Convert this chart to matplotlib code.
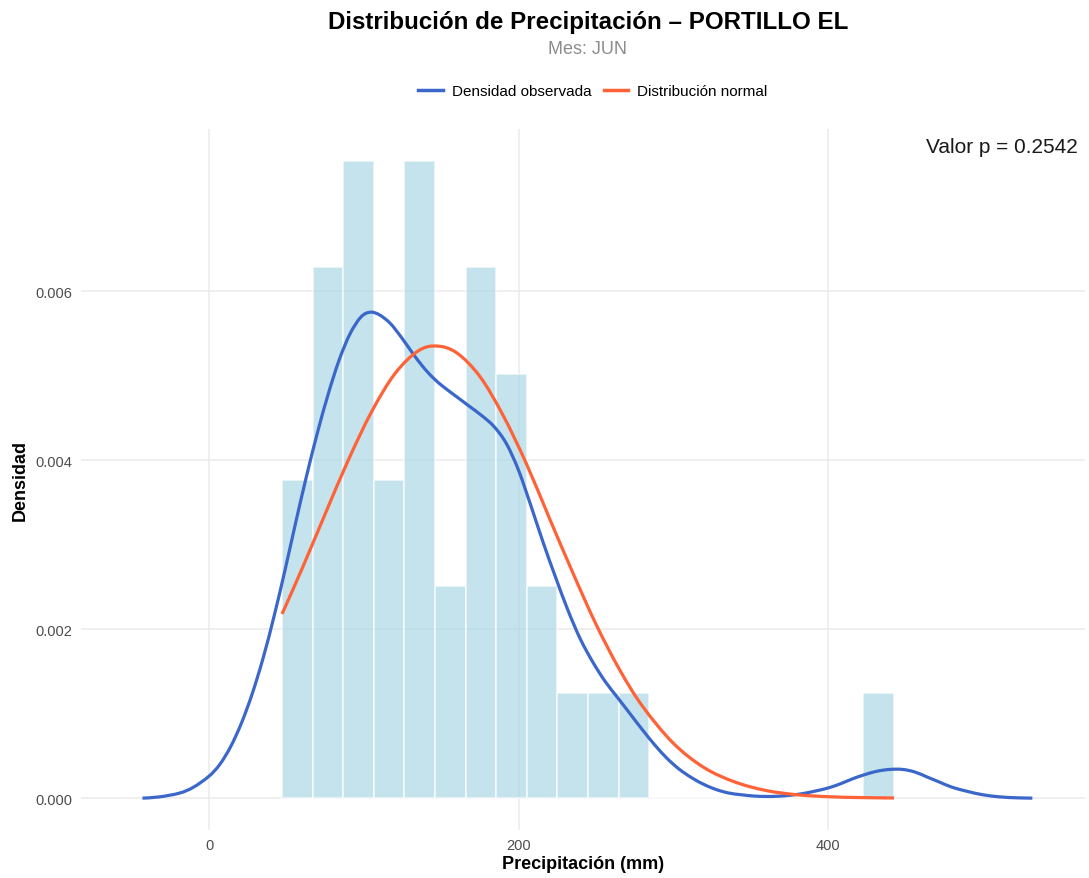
import numpy as np
import matplotlib
matplotlib.use("Agg")
import matplotlib.pyplot as plt
from matplotlib.lines import Line2D
from matplotlib.path import Path
from matplotlib.patches import PathPatch

plt.rcParams['font.family'] = ['Liberation Sans', 'DejaVu Sans']

# ---------------------------------
# Data
# ---------------------------------
# histogram: 20 bins between the min and max of the series
bin_lo, bin_hi, n_bins = 47.2, 442.6, 20
hist_density = [0.00376, 0.00628, 0.00754, 0.00376, 0.00754, 0.00251, 0.00628,
                0.00502, 0.00251, 0.00125, 0.00125, 0.00125, 0, 0, 0, 0, 0, 0, 0,
                0.00125]

# observed density (kernel) curve
kde_x = [-43, -32, -19, -10, 0, 7, 14, 21, 28, 35, 42, 49, 56, 63, 70, 77, 84,
         91, 98, 104, 110, 117, 124, 131, 138, 145, 152, 160, 168, 176, 184,
         192, 200, 208, 216, 224, 232, 240, 248, 256, 264, 272, 280, 288, 296,
         304, 312, 320, 328, 336, 344, 352, 360, 368, 376, 384, 392, 400, 408,
         416, 424, 432, 440, 448, 456, 464, 472, 480, 490, 500, 511, 522, 532]
kde_y = [0, 0.000015, 0.00006, 0.00013, 0.00026, 0.00040, 0.00061, 0.00089,
         0.00124, 0.00166, 0.00215, 0.00269, 0.00326, 0.00381, 0.00432,
         0.00478, 0.00518, 0.00549, 0.00569, 0.00575, 0.00572, 0.00562,
         0.00546, 0.00528, 0.00511, 0.00497, 0.00486, 0.00475, 0.00464,
         0.00453, 0.00440, 0.00420, 0.00388, 0.00346, 0.00302, 0.00261,
         0.00222, 0.00188, 0.00161, 0.00138, 0.00119, 0.00100, 0.00081,
         0.00063, 0.00047, 0.00034, 0.00024, 0.00016, 0.00010, 0.00006,
         0.00004, 0.000025, 0.00002, 0.000023, 0.000035, 0.000055, 0.000085,
         0.00012, 0.00017, 0.00023, 0.00028, 0.00032, 0.00034, 0.00034,
         0.00031, 0.00025, 0.00019, 0.00013, 0.00008, 0.00004, 0.000015,
         0.000004, 0.0]

# fitted normal curve
norm_x = [47.2, 60, 75, 90, 105, 120, 135, 147, 160, 175, 190, 205, 220, 235,
          250, 265, 280, 300, 320, 340, 360, 380, 400, 420, 442.6]
norm_y = [0.00218, 0.00271, 0.00336, 0.0040, 0.00457, 0.00502, 0.00529,
          0.00535, 0.00527, 0.00499, 0.00453, 0.00396, 0.00331, 0.00267,
          0.00206, 0.00153, 0.00109, 0.00065, 0.00036, 0.00019, 0.00009,
          0.00004, 0.000017, 0.000007, 0.000002]

x_ticks = [0, 200, 400]
y_ticks = [0.000, 0.002, 0.004, 0.006]
p_value = 0.2542

blue = '#3A67C9'
orange = '#FF6236'


# smooth (Catmull-Rom style) path through the read points, like ggplot's curves
def smooth_path(xs, ys):
    pts = np.column_stack([xs, ys])
    verts, codes = [pts[0]], [Path.MOVETO]
    for i in range(len(pts) - 1):
        p0 = pts[i - 1] if i > 0 else pts[i]
        p1, p2 = pts[i], pts[i + 1]
        p3 = pts[i + 2] if i + 2 < len(pts) else pts[i + 1]
        verts += [p1 + (p2 - p0) / 6, p2 - (p3 - p1) / 6, p2]
        codes += [Path.CURVE4] * 3
    return Path(verts, codes)


# ---------------------------------
# Figure
# ---------------------------------
fig = plt.figure(figsize=(10.89, 8.79), dpi=100)
ax = fig.add_axes([0.0744, 0.0546, 0.9219, 0.7977])

edges = np.linspace(bin_lo, bin_hi, n_bins + 1)
ax.bar(edges[:-1], hist_density, width=np.diff(edges), align='edge',
       color='#ADD8E6', alpha=0.7, edgecolor='white', linewidth=1.2, zorder=2)

ax.add_patch(PathPatch(smooth_path(kde_x, kde_y), fill=False, edgecolor=blue,
                       lw=2.3, zorder=3, capstyle='butt'))
ax.add_patch(PathPatch(smooth_path(norm_x, norm_y), fill=False, edgecolor=orange,
                       lw=2.3, zorder=4, capstyle='butt'))

ax.set_xlim(-82.7, 566)
ax.set_ylim(-0.000377, 0.00792)
ax.set_xticks(x_ticks)
ax.set_yticks(y_ticks)
ax.set_yticklabels([f"{v:.3f}" for v in y_ticks])
ax.tick_params(length=0, labelsize=10.5, labelcolor='#4D4D4D', pad=6)
ax.grid(True, color='#EBEBEB', lw=1.1)
ax.set_axisbelow(True)
for s in ax.spines.values():
    s.set_visible(False)

ax.set_xlabel("Precipitación (mm)", fontsize=13, fontweight='bold', labelpad=2)
ax.set_ylabel("Densidad", fontsize=13, fontweight='bold', labelpad=5)

ax.text(0.993, 0.975, f"Valor p = {p_value:.4f}", transform=ax.transAxes,
        ha='right', va='center', fontsize=15, color='#1A1A1A')

fig.text(588 / 1089, 1 - 22 / 879, "Distribución de Precipitación – PORTILLO EL",
         ha='center', va='center', fontsize=17.4, fontweight='bold')
fig.text(588 / 1089, 1 - 50 / 879, "Mes: JUN", ha='center', va='center',
         fontsize=13, color='#8C8C8C')

handles = [Line2D([], [], color=blue, lw=2.5),
           Line2D([], [], color=orange, lw=2.5)]
fig.legend(handles, ["Densidad observada", "Distribución normal"],
           loc='center', bbox_to_anchor=(593 / 1089, 1 - 92 / 879), ncol=2,
           frameon=False, fontsize=11, handlelength=1.6, handletextpad=0.6,
           columnspacing=0.8)

fig.savefig("out.png", dpi=100, facecolor='white')
